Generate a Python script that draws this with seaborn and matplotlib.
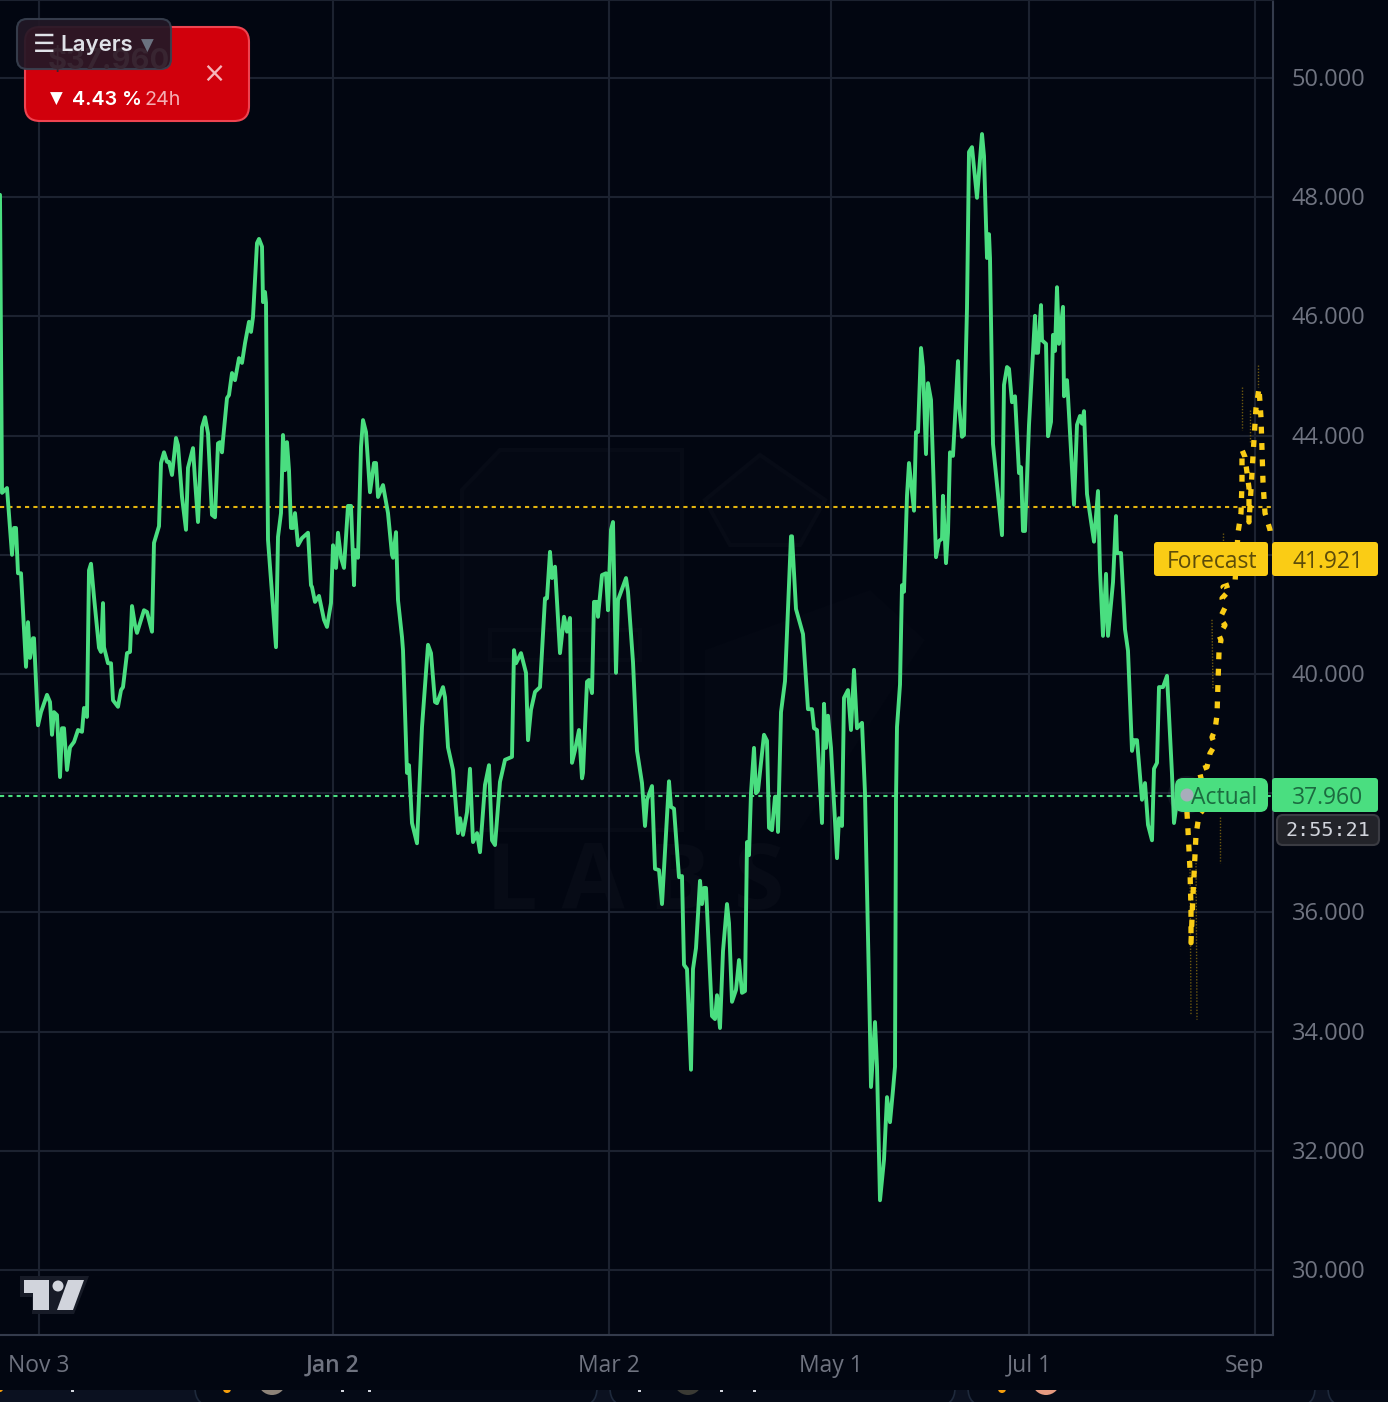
import matplotlib
matplotlib.use("Agg")
import matplotlib.pyplot as plt
import seaborn as sns
from matplotlib.patches import FancyBboxPatch, Polygon, Circle, Rectangle
from matplotlib.transforms import ScaledTranslation

# bar position on the (uneven) time axis
actual_x = [0, 2, 7, 12, 14, 16, 18, 21, 26, 28, 30, 33, 34, 38, 41, 47, 50, 52, 54, 57, 60, 62, 64, 67, 70, 74, 78, 82, 84, 87,
            89, 91, 94, 99, 101, 103, 104, 108, 111, 113, 118, 121, 123, 127, 130, 132, 135, 137, 144, 147, 152, 154, 159, 161, 164, 167, 169, 172, 176, 178,
            182, 186, 188, 193, 195, 198, 202, 205, 208, 212, 215, 218, 220, 222, 223, 227, 229, 232, 235, 239, 242, 245, 249, 251, 253, 257, 259, 262, 263, 265,
            266, 268, 276, 278, 281, 283, 285, 287, 289, 291, 293, 295, 298, 302, 308, 311, 312, 315, 319, 324, 327, 331, 333, 336, 338, 341, 344, 348, 351, 354,
            355, 358, 361, 363, 366, 370, 374, 376, 378, 383, 388, 392, 393, 396, 398, 402, 403, 407, 409, 412, 417, 422, 428, 431, 435, 437, 443, 445, 448, 453,
            458, 460, 463, 467, 470, 473, 477, 480, 485, 489, 492, 495, 500, 505, 512, 514, 516, 521, 526, 528, 531, 535, 540, 545, 547, 550, 552, 555, 560, 564,
            567, 570, 572, 575, 579, 582, 583, 587, 589, 592, 594, 597, 598, 602, 606, 608, 611, 613, 616, 618, 626, 628, 633, 637, 642, 645, 647, 652, 655, 659,
            662, 669, 671, 674, 679, 682, 684, 687, 691, 693, 696, 700, 702, 704, 706, 712, 715, 717, 720, 723, 727, 729, 732, 736, 739, 742, 745, 747, 749, 751,
            754, 756, 758, 764, 767, 769, 772, 775, 777, 778, 781, 785, 791, 792, 796, 803, 808, 812, 814, 817, 822, 824, 826, 828, 831, 837, 839, 842, 844, 848,
            851, 854, 857, 862, 865, 870, 871, 875, 877, 880, 884, 887, 890, 893, 895, 896, 897, 900, 902, 904, 907, 909, 914, 916, 918, 921, 923, 926, 928, 931,
            936, 939, 942, 943, 946, 948, 950, 953, 958, 959, 962, 964, 967, 969, 972, 977, 982, 984, 987, 989, 990, 993, 1002, 1004, 1007, 1009, 1012, 1015, 1019, 1021,
            1023, 1025, 1029, 1035, 1036, 1038, 1041, 1042, 1046, 1048, 1051, 1053, 1055, 1057, 1059, 1063, 1064, 1067, 1068, 1074, 1077, 1080, 1082, 1084, 1087, 1094, 1098, 1100,
            1103, 1106, 1108, 1113, 1116, 1117, 1121, 1125, 1128, 1132, 1134, 1137, 1142, 1145, 1148, 1152, 1154, 1157, 1159, 1163, 1167, 1172, 1174, 1178, 1186]
actual_price = [48.04, 43.04, 43.12, 42.00, 42.45, 42.45, 41.69, 41.69, 40.12, 40.87, 40.27, 40.60, 40.60, 39.14, 39.36, 39.65, 39.53, 38.98, 39.36, 39.31, 38.27, 39.09, 39.09, 38.39, 38.77, 38.86, 39.06, 39.03, 39.43, 39.28,
                41.74, 41.85, 41.29, 40.44, 40.37, 41.19, 40.45, 40.18, 40.18, 39.56, 39.45, 39.73, 39.78, 40.35, 40.37, 41.14, 40.82, 40.69, 41.07, 41.04, 40.71, 42.20, 42.48, 43.54, 43.72, 43.56, 43.56, 43.34, 43.96, 43.84,
                42.97, 42.42, 43.46, 43.79, 43.26, 42.55, 44.14, 44.31, 44.04, 42.67, 42.63, 43.87, 43.89, 43.72, 43.93, 44.63, 44.68, 45.05, 44.93, 45.30, 45.22, 45.55, 45.91, 45.74, 45.99, 47.23, 47.30, 47.17, 46.24, 46.41,
                46.23, 42.25, 40.45, 42.30, 42.70, 44.01, 43.42, 43.89, 43.42, 42.45, 42.45, 42.70, 42.16, 42.28, 42.37, 41.49, 41.46, 41.21, 41.31, 40.91, 40.79, 41.19, 42.16, 41.78, 42.37, 41.95, 41.78, 42.82, 42.82, 41.49,
                42.08, 41.95, 43.81, 44.26, 44.06, 43.05, 43.54, 43.54, 42.97, 43.17, 42.70, 42.00, 41.95, 42.38, 41.24, 40.62, 40.40, 38.34, 38.47, 37.50, 37.16, 39.11, 40.49, 40.35, 39.53, 39.51, 39.78, 39.61, 38.77, 38.39,
                37.33, 37.58, 37.30, 37.68, 38.41, 37.18, 37.33, 37.01, 38.14, 38.47, 37.21, 37.13, 38.19, 38.56, 38.61, 40.40, 40.18, 40.35, 40.02, 38.89, 39.40, 39.70, 39.78, 41.27, 41.27, 42.05, 41.61, 41.80, 40.35, 40.96,
                40.71, 40.94, 38.51, 38.72, 39.06, 38.25, 38.34, 39.87, 39.90, 39.68, 41.21, 41.21, 40.96, 41.66, 41.69, 41.07, 42.42, 42.55, 40.02, 41.24, 41.61, 41.38, 40.20, 38.71, 38.17, 37.45, 37.89, 38.12, 36.73, 36.71,
                36.14, 38.20, 37.77, 37.74, 36.59, 36.61, 35.12, 35.05, 33.36, 35.05, 35.40, 36.53, 36.14, 36.41, 36.41, 34.26, 34.21, 34.61, 34.06, 35.35, 36.14, 35.82, 34.50, 34.70, 35.20, 34.65, 34.68, 37.18, 36.96, 38.00,
                38.76, 38.00, 38.04, 38.98, 38.88, 37.42, 37.38, 37.94, 37.94, 37.35, 39.36, 39.88, 42.31, 42.31, 41.09, 40.67, 39.41, 39.41, 39.09, 39.06, 37.50, 39.50, 38.76, 39.30, 38.76, 36.91, 37.58, 37.45, 39.60, 39.73,
                39.06, 40.07, 39.09, 39.18, 38.00, 33.98, 33.07, 34.16, 33.41, 31.17, 31.85, 32.90, 32.48, 33.02, 33.41, 37.89, 39.11, 39.82, 41.49, 41.38, 42.99, 43.54, 42.74, 44.06, 44.06, 45.47, 45.15, 43.69, 44.88, 44.60,
                41.96, 42.23, 42.27, 42.99, 41.86, 42.37, 43.72, 43.66, 45.25, 44.53, 43.98, 44.01, 46.14, 48.76, 48.84, 47.99, 49.06, 48.69, 46.98, 47.38, 46.98, 43.86, 42.33, 44.85, 45.15, 45.12, 44.56, 44.66, 43.37, 43.47,
                42.40, 42.40, 44.18, 46.01, 45.39, 45.39, 46.19, 45.60, 45.54, 43.99, 44.23, 45.69, 45.42, 46.49, 45.54, 46.16, 44.66, 44.93, 44.66, 42.84, 44.18, 44.33, 44.20, 44.41, 43.02, 42.22, 43.07, 41.73,
                40.64, 41.68, 40.64, 41.54, 42.65, 42.03, 42.03, 40.75, 40.39, 38.71, 38.89, 38.89, 37.89, 38.17, 37.47, 37.21, 38.41, 38.51, 39.78, 39.78, 39.97, 38.32, 37.50, 37.99, 37.96]

forecast_x = [1186, 1188, 1190, 1191, 1191, 1193, 1196, 1199, 1203, 1204, 1199, 1207, 1210, 1215, 1212, 1215, 1217, 1218, 1219, 1221, 1219, 1225, 1220, 1225, 1222, 1228, 1223, 1235,
              1238, 1241, 1242, 1242, 1245, 1249, 1249, 1251, 1253, 1255, 1256, 1259, 1261, 1262, 1263, 1265, 1270, 1271]
forecast_price = [37.96, 37.38, 36.71, 36.04, 35.49, 36.29, 37.30, 37.63, 37.72, 38.05, 38.39, 38.44, 38.67, 38.81, 38.94, 39.06, 39.31, 39.85, 40.37, 40.57, 40.65, 40.82, 40.94, 41.11, 41.27, 41.38, 41.46, 41.53,
                  42.37, 42.70, 43.22, 43.76, 43.64, 43.12, 42.55, 43.09, 43.66, 44.20, 44.46, 44.80, 44.30, 43.76, 43.22, 42.70, 42.42, 42.25]

# faint forecast range strands
band_x = [1190, 1191, 1196, 1197, 1212, 1213, 1220, 1220, 1242, 1242, 1250, 1250, 1258, 1258, 1223, 1223]
band_price = [36.88, 34.28, 36.88, 34.20, 40.91, 39.73, 37.60, 36.83, 44.82, 44.09, 44.43, 43.87, 45.19, 44.82, 42.37, 42.23]
band_id = [0, 0, 1, 1, 2, 2, 3, 3, 4, 4, 5, 5, 6, 6, 7, 7]

actual_last = 37.96
forecast_last = 41.921
forecast_level = 42.80

price_ticks = [30, 32, 34, 36, 38, 40, 42, 44, 46, 48, 50]
# 38 and 42 sit under the price badges
price_labels = ["30.000", "32.000", "34.000", "36.000", "", "40.000", "", "44.000", "46.000", "48.000", "50.000"]
time_ticks = [39, 333, 609, 831, 1029, 1255]
time_labels = ["Nov 3", "Jan 2", "Mar 2", "May 1", "Jul 1", "Sep"]

BG = "#020611"
GRID = "#1c2230"
GREEN = "#4ade80"
YELLOW = "#facc15"
TICK = "#6f7380"

sns.set_theme(style="dark", rc={"figure.facecolor": BG, "axes.facecolor": "none", "savefig.facecolor": BG})
plt.rcParams["font.family"] = ["Open Sans", "DejaVu Sans"]

fig = plt.figure(figsize=(13.88, 14.02), dpi=100)

# backdrop in pixel units: bottom strip, pills, watermark
back = fig.add_axes([0, 0, 1, 1], zorder=0)
back.set_xlim(0, 1388)
back.set_ylim(1402, 0)
back.axis("off")
back.add_patch(Rectangle((0, 1380), 1388, 22, fc="#0b1120", ec="none", zorder=1))
for x0, x1 in [(195, 597), (610, 955), (968, 1315), (1328, 1500)]:
    back.add_patch(FancyBboxPatch((x0, 1340), x1 - x0, 66, boxstyle="round,pad=0,rounding_size=18",
                                  fc="#050a16", ec="#1e293b", lw=1.2, zorder=2))
for cx, r, c in [(227, 4, "#f59e0b"), (272, 14, "#8d8378"), (688, 14, "#3a3a34"), (1002, 4, "#f59e0b"), (1046, 14, "#e59a80"),
                 (0, 3, "#f59e0b")]:
    back.add_patch(Circle((cx, 1381 if r > 5 else 1389), r, fc=c, ec="none", zorder=3))
for cx in [73, 343, 370, 640, 722, 755]:
    back.add_patch(Rectangle((cx - 1.5, 1390), 3, 2, fc="#d1d4dc", ec="none", zorder=3))
back.add_patch(Rectangle((0, 0), 1388, 1390, fc=BG, ec="none", zorder=4))
mark = "#070b16"
for pts in [[(462, 830), (462, 490), (500, 450), (682, 450), (682, 830)],
            [(705, 500), (760, 455), (825, 500), (800, 545), (730, 545)],
            [(490, 630), (640, 630), (640, 660), (490, 660)]]:
    back.add_patch(Polygon(pts, closed=True, fc="#040813", ec=mark, lw=3, zorder=5))
back.add_patch(Polygon([(705, 650), (870, 590), (925, 640), (800, 830), (705, 830)], closed=True, fc="#040813", ec="none", zorder=5))
back.text(635, 885, "L A B S", color=mark, fontsize=66, fontweight="bold", ha="center", va="center", zorder=6)

# chart
ax = fig.add_axes([0, 1 - 1335 / 1402, 1273 / 1388, 1335 / 1402], zorder=1)
sns.lineplot(x=actual_x, y=actual_price, sort=False, estimator=None, color=GREEN, linewidth=2.8,
             solid_joinstyle="round", ax=ax, zorder=3)
sns.lineplot(x=band_x, y=band_price, units=band_id, estimator=None, sort=False, color="#6b5710", linewidth=1.0,
             linestyle=(0, (1, 1.2)), ax=ax, zorder=2)
sns.lineplot(x=forecast_x, y=forecast_price, sort=False, estimator=None, color=YELLOW, linewidth=3.8,
             linestyle=(0, (1.3, 1.8)), ax=ax, zorder=4)
ax.axhline(forecast_level, color="#e3b410", lw=1.5, linestyle=(0, (2, 2)), zorder=2.5)
ax.axhline(actual_last, color=GREEN, lw=1.5, linestyle=(0, (2, 2)), zorder=2.5)

ax.set_xlim(0, 1273)
ax.set_ylim(51.309 - 1335 * 0.016779, 51.309)
ax.set_xlabel("")
ax.set_ylabel("")
ax.set_axisbelow(True)
ax.grid(True, color=GRID, lw=1.5)
ax.yaxis.tick_right()
ax.set_yticks(price_ticks, price_labels)
ax.set_xticks(time_ticks, time_labels)
ax.tick_params(axis="y", length=0, pad=13.5, labelsize=17, labelcolor=TICK)
ax.tick_params(axis="x", length=0, pad=13.5, labelsize=16.5, labelcolor=TICK)
ax.get_xticklabels()[1].set_fontweight("semibold")
sep = ax.get_xticklabels()[-1]
sep.set_transform(sep.get_transform() + ScaledTranslation(-10 / 100, 0, fig.dpi_scale_trans))
for lab in ax.get_yticklabels():
    lab.set_transform(lab.get_transform() + ScaledTranslation(0, 1 / 100, fig.dpi_scale_trans))
for side, spine in ax.spines.items():
    spine.set_visible(side in ("right", "bottom", "top"))
    spine.set_color("#343b4c" if side != "top" else GRID)
    spine.set_linewidth(1.5)

# interface overlay in pixel units
ui = fig.add_axes([0, 0, 1, 1], zorder=2)
ui.set_xlim(0, 1388)
ui.set_ylim(1402, 0)
ui.axis("off")
ui.patch.set_alpha(0)


def box(x0, y0, x1, y1, r, fc, ec="none", lw=0, z=1, alpha=None):
    ui.add_patch(FancyBboxPatch((x0, y0), x1 - x0, y1 - y0, boxstyle=f"round,pad=0,rounding_size={r}",
                                fc=fc, ec=ec, lw=lw, zorder=z, alpha=alpha))


# price badges
box(1154, 542, 1268, 576, 3, YELLOW)
box(1272, 542, 1378, 576, 3, YELLOW)
ui.text(1212, 562, "Forecast", color="#5c4c0a", fontsize=16.5, ha="center", va="center")
ui.text(1328, 562, f"{forecast_last:.3f}", color="#5c4c0a", fontsize=16.5, ha="center", va="center")
ui.add_patch(Circle((1187, 795), 19, fc="#c8ccd8", alpha=0.07, ec="none", zorder=1))
box(1175, 778, 1268, 812, 8, GREEN)
box(1272, 778, 1378, 812, 3, GREEN)
ui.add_patch(Circle((1187, 795), 6.5, fc="#a8adbb", ec="none", zorder=2))
ui.text(1224, 798, "Actual", color="#1c6b40", fontsize=16.5, ha="center", va="center", zorder=3)
ui.text(1328, 798, f"{actual_last:.3f}", color="#1c6b40", fontsize=16.5, ha="center", va="center")
box(1277, 815, 1379, 845, 6, "#222329", ec="#3a3b42", lw=1.5)
ui.text(1328, 830, "2:55:21", color="#d1d4dc", fontsize=14.5, family="DejaVu Sans Mono", ha="center", va="center", zorder=3)

# red alert card with the layers button on top
box(25, 27, 249, 121, 15, "#d1000c", ec="#ef4350", lw=1.5, z=1)
ui.text(56, 99, "▼", color="white", fontsize=12, family="DejaVu Sans", ha="center", va="center", zorder=2)
ui.text(72, 100, "4.43 %", color="white", fontsize=14.2, fontweight="semibold", family="Inter", ha="left", va="center", zorder=2)
ui.text(145, 100, "24h", color="#f4aeb3", fontsize=14.2, family="Inter", ha="left", va="center", zorder=2)
ui.text(214, 74, "×", color="#f6b5ba", fontsize=20, family="DejaVu Sans", ha="center", va="center", zorder=2)
box(17, 19, 171, 69, 10, "#221826", ec="#38404f", lw=1.5, z=3, alpha=0.93)
ui.text(48, 61, "$37.960", color="#382531", fontsize=21, fontweight="bold", family="Inter", ha="left", va="center", zorder=4)
ui.text(44, 45, "☰", color="#e0e2e8", fontsize=18, fontweight="bold", family="DejaVu Sans", ha="center", va="center", zorder=5)
ui.text(60, 45, "Layers", color="#dfe1e7", fontsize=16, fontweight="semibold", family="Inter", ha="left", va="center", zorder=5)
ui.text(147, 46, "▼", color="#6b7280", fontsize=12, family="DejaVu Sans", ha="center", va="center", zorder=5)

# chart library logo
ui.add_patch(Polygon([(20, 1276), (89, 1276), (74, 1314), (32, 1314), (32, 1297), (20, 1297)], fc="#171b27", ec="none", zorder=1))
ui.add_patch(Polygon([(24, 1280), (49, 1280), (49, 1310), (33, 1310), (33, 1293), (24, 1293)], fc="#d1d4dc", ec="none", zorder=2))
ui.add_patch(Polygon([(68, 1280), (84, 1280), (73, 1310), (57, 1310)], fc="#d1d4dc", ec="none", zorder=2))
ui.add_patch(Circle((58, 1286), 5.5, fc="#d1d4dc", ec="none", zorder=2))

fig.savefig("out.png", dpi=100)
